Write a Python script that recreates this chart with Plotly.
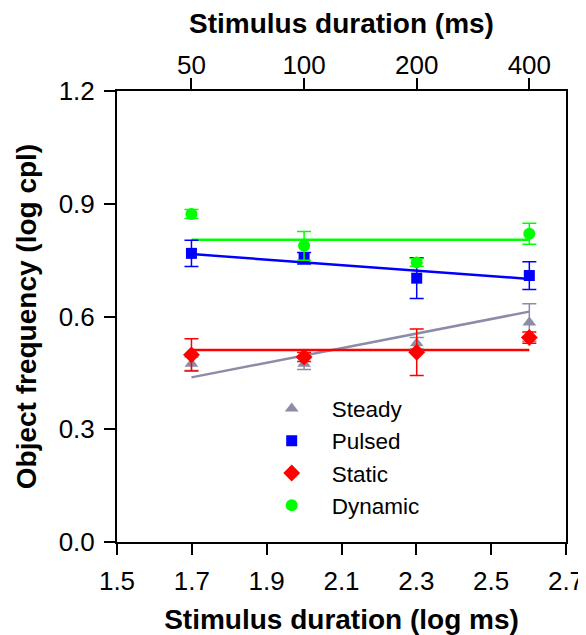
import plotly.graph_objects as go

# ---- data ----
durations_ms = [50, 100, 200, 400]
log_dur = [1.699, 2.0, 2.301, 2.602]

series_names = ["Steady", "Pulsed", "Static", "Dynamic"]
steady = [0.474, 0.474, 0.529, 0.584]
steady_err = [0.018, 0.015, 0.015, 0.05]
pulsed = [0.768, 0.755, 0.702, 0.709]
pulsed_err = [0.035, 0.015, 0.054, 0.037]
static = [0.498, 0.492, 0.505, 0.544]
static_err = [0.043, 0.012, 0.062, 0.015]
dynamic = [0.873, 0.788, 0.744, 0.820]
dynamic_err = [0.012, 0.038, 0.01, 0.028]

fit_x = [1.699, 2.602]
steady_fit = [0.438, 0.613]
pulsed_fit = [0.766, 0.700]
static_fit = [0.511, 0.511]
dynamic_fit = [0.804, 0.804]

x_ticks = [1.5, 1.7, 1.9, 2.1, 2.3, 2.5, 2.7]
y_ticks = [0.0, 0.3, 0.6, 0.9, 1.2]

colors = ["#8c8ca8", "#0000ff", "#ff0000", "#00ff00"]
symbols = ["triangle-up", "square", "diamond", "circle"]
sizes = [12, 11, 13, 12]

vals = [steady, pulsed, static, dynamic]
errs = [steady_err, pulsed_err, static_err, dynamic_err]
fits = [steady_fit, pulsed_fit, static_fit, dynamic_fit]

fig = go.Figure()

# fit lines
for name, f, c in zip(series_names, fits, colors):
    fig.add_trace(go.Scatter(x=fit_x, y=f, mode="lines",
                             line=dict(color=c, width=2.5),
                             showlegend=False, hoverinfo="skip"))

# markers with error bars
for i, (name, v, e, c, s, sz) in enumerate(zip(series_names, vals, errs, colors, symbols, sizes)):
    fig.add_trace(go.Scatter(
        x=log_dur, y=v, mode="markers", name=name,
        legendgroup=name,
        marker=dict(color=c, symbol=s, size=sz, line=dict(width=0)),
        error_y=dict(type="data", array=e, visible=True, color=c, thickness=1.5, width=7),
    ))

# dummy trace for top axis
fig.add_trace(go.Scatter(x=log_dur, y=[None]*4, xaxis="x2", showlegend=False, hoverinfo="skip"))

font_family = "Liberation Sans, Arial, sans-serif"
tick_size = 26
title_size = 28

common = dict(showgrid=False, zeroline=False, showline=True, linecolor="black", linewidth=2,
              ticks="outside", ticklen=11, tickwidth=2, tickcolor="black",
              tickfont=dict(size=tick_size), automargin=False)

fig.update_layout(
    width=578, height=627,
    margin=dict(l=109, r=20, t=83, b=93),
    paper_bgcolor="white", plot_bgcolor="white",
    font=dict(family=font_family, color="black", size=20),
    xaxis=dict(range=[1.5, 2.7], tickvals=x_ticks, ticktext=[f"{t:.1f}" for t in x_ticks],
               ticklabelstandoff=4,
               title=dict(text="<b>Stimulus duration (log ms)</b>", font=dict(size=title_size), standoff=14),
               **common),
    xaxis2=dict(range=[1.5, 2.7], overlaying="x", side="top", anchor="y",
                tickvals=log_dur, ticktext=[str(d) for d in durations_ms],
                ticklabelstandoff=-6,
                title=dict(text="<b>Stimulus duration (ms)</b>", font=dict(size=title_size), standoff=8),
                **common),
    yaxis=dict(range=[0, 1.2], tickvals=y_ticks, ticktext=[f"{t:.1f}" for t in y_ticks],
               ticklabelstandoff=4,
               title=dict(text="<b>Object frequency (log cpl)</b>", font=dict(size=title_size), standoff=14),
               mirror=True, **common),
    legend=dict(x=0.30, y=0.343, xanchor="left", yanchor="top",
                bgcolor="rgba(0,0,0,0)", font=dict(size=22.5),
                traceorder="grouped", tracegroupgap=0, itemwidth=70),
    showlegend=True,
)

fig.write_html("out.html")
